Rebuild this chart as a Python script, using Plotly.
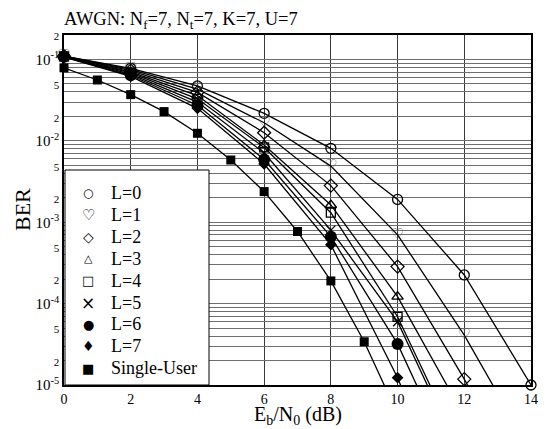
import numpy as np
import plotly.graph_objects as go

# ---------------- data ----------------
ebn0_L = [0, 2, 4, 6, 8, 10, 12, 14]
ber_L0 = [0.110, 0.078, 0.0473, 0.0218, 0.0081, 0.00191, 2.25e-4, 1.0e-5]
ber_L1 = [0.110, 0.0755, 0.0432, 0.0167, 0.0049, 7.0e-4, 4.1e-5, 1.5e-6]
ber_L2 = [0.110, 0.073, 0.0394, 0.0126, 0.00282, 2.85e-4, 1.18e-5, 3.7e-7]
ber_L3 = [0.109, 0.0705, 0.0360, 0.0089, 0.00163, 1.22e-4, 4.1e-6]
ber_L4 = [0.109, 0.0685, 0.0329, 0.0083, 0.00131, 6.9e-5, 1.28e-6]
ber_L5 = [0.108, 0.0662, 0.0300, 0.0071, 8.0e-4, 6.0e-5, 1.07e-6]
ber_L6 = [0.108, 0.064, 0.0274, 0.0059, 6.65e-4, 3.2e-5, 5.4e-7]
ber_L7 = [0.107, 0.062, 0.0251, 0.0052, 5.3e-4, 1.23e-5, 1.2e-7]
ebn0_su = [0, 1, 2, 3, 4, 5, 6, 7, 8, 9, 10]
ber_su = [0.079, 0.056, 0.037, 0.0229, 0.0124, 0.00582, 0.00238, 7.7e-4, 1.9e-4, 3.4e-5, 4.4e-6]

names = ["L=0", "L=1", "L=2", "L=3", "L=4", "L=5", "L=6", "L=7", "Single-User"]
series = [ber_L0, ber_L1, ber_L2, ber_L3, ber_L4, ber_L5, ber_L6, ber_L7, ber_su]
xs = [ebn0_L] * 8 + [ebn0_su]

x_ticks = [0, 2, 4, 6, 8, 10, 12, 14]
y_min, y_max = 1e-5, 0.2

# ---------------- styles ----------------
SERIF = "Times New Roman, Liberation Serif, serif"
SYM = "DejaVu Sans"
styles = [
    dict(symbol="circle-open", size=10, color="black", line=dict(width=1.3)),
    None,  # heart drawn as text glyph
    dict(symbol="diamond-open", size=10, color="black", line=dict(width=1.3)),
    dict(symbol="triangle-up-open", size=10, color="black", line=dict(width=1.3)),
    dict(symbol="square-open", size=9, color="black", line=dict(width=1.3)),
    dict(symbol="x-thin-open", size=9, color="black", line=dict(width=1.3)),
    dict(symbol="circle", size=12, color="black"),
    dict(symbol="diamond", size=9, color="black"),
    dict(symbol="square", size=9, color="black"),
]
legend_glyphs = ["○", "♡", "◇", "△", "□", "×", "●", "♦", "■"]
legend_glyph_sizes = [12, 15, 14, 11, 13, 17, 13, 14, 13]

fig = go.Figure()
for name, xv, yv, st in zip(names, xs, series, styles):
    xv = np.array(xv[:len(yv)], dtype=float)
    yv = np.array(yv, dtype=float)
    fig.add_trace(go.Scatter(x=xv.tolist(), y=yv.tolist(), mode="lines", name=name,
                             line=dict(color="black", width=1.3),
                             showlegend=False, hoverinfo="skip"))
    keep = yv >= y_min * 0.999
    if st is None:
        fig.add_trace(go.Scatter(x=xv[keep].tolist(), y=yv[keep].tolist(), mode="text",
                                 text=["♡"] * int(keep.sum()), textposition="middle center",
                                 textfont=dict(family=SYM, size=15, color="#555555"),
                                 showlegend=False, cliponaxis=False, name=name, hoverinfo="skip"))
    else:
        fig.add_trace(go.Scatter(x=xv[keep].tolist(), y=yv[keep].tolist(), mode="markers", marker=st,
                                 showlegend=False, cliponaxis=False, name=name))

# y ticks: log minor grid with labels at 1,2,5
tickvals, ticktext = [], []
for e in range(-5, 0):
    for m in range(1, 10):
        v = m * 10.0 ** e
        tickvals.append(v)
        if m == 1:
            ticktext.append(f"10<sup>{e}</sup>")
        elif m in (2, 5):
            ticktext.append(f"<span style='font-size:11px'>{m}</span>")
        else:
            ticktext.append(" ")
tickvals.append(0.2)
ticktext.append("<span style='font-size:11px'>2</span>")

# page body has an 8px margin: size the figure so the plot lands where the reference has it
fig.update_layout(
    width=543, height=421,
    margin=dict(l=56, r=20, t=27, b=44),
    paper_bgcolor="white", plot_bgcolor="white",
    font=dict(family=SERIF, color="black"),
    showlegend=False,
    xaxis=dict(range=[0, 14], tickvals=x_ticks, showgrid=True, gridcolor="#3a3a3a", gridwidth=1,
               zeroline=False, showline=True, linecolor="black", linewidth=1.5, mirror=True,
               ticks="", tickfont=dict(family=SERIF, size=14), automargin=False),
    yaxis=dict(type="log", range=[np.log10(y_min), np.log10(y_max)], tickvals=tickvals, ticktext=ticktext,
               showgrid=True, gridcolor="#6e6e6e", gridwidth=1, zeroline=False,
               showline=True, linecolor="black", linewidth=1.5, mirror=True,
               ticks="", tickfont=dict(family=SERIF, size=15), automargin=False),
)

# legend box
px_w, px_h = 467.0, 350.0
fig.add_shape(type="rect", xref="paper", yref="paper",
              x0=1 / px_w, x1=(209 - 64) / px_w, y0=0, y1=(385 - 170) / px_h,
              fillcolor="white", line=dict(color="black", width=1), layer="above")
for i, (g, n, gs) in enumerate(zip(legend_glyphs, names, legend_glyph_sizes)):
    ypx = 193 + i * 21.9
    yp = (385 - ypx) / px_h
    fig.add_annotation(xref="paper", yref="paper", x=(88 - 64) / px_w, y=yp, text=g, showarrow=False,
                       xanchor="center", yanchor="middle", font=dict(family=SYM, size=gs, color="black"))
    fig.add_annotation(xref="paper", yref="paper", x=(109 - 64) / px_w, y=yp, text=n, showarrow=False,
                       xanchor="left", yanchor="middle", font=dict(family=SERIF, size=18, color="black"))

# titles
fig.add_annotation(xref="paper", yref="paper", x=-0.004, y=1, yshift=1, xanchor="left", yanchor="bottom",
                   text="AWGN: N<sub>f</sub>=7, N<sub>t</sub>=7, K=7, U=7", showarrow=False,
                   font=dict(family=SERIF, size=18.5))
fig.add_annotation(xref="paper", yref="paper", x=(22 - 64) / px_w, y=0.5, xanchor="center", yanchor="middle",
                   text="BER", textangle=-90, showarrow=False, font=dict(family=SERIF, size=22))
fig.add_annotation(xref="paper", yref="paper", x=0.5, y=0, yshift=-30, xanchor="center", yanchor="middle",
                   text="E<sub>b</sub>/N<sub>0</sub> (dB)", showarrow=False, font=dict(family=SERIF, size=20))

fig.write_html("out.html")
